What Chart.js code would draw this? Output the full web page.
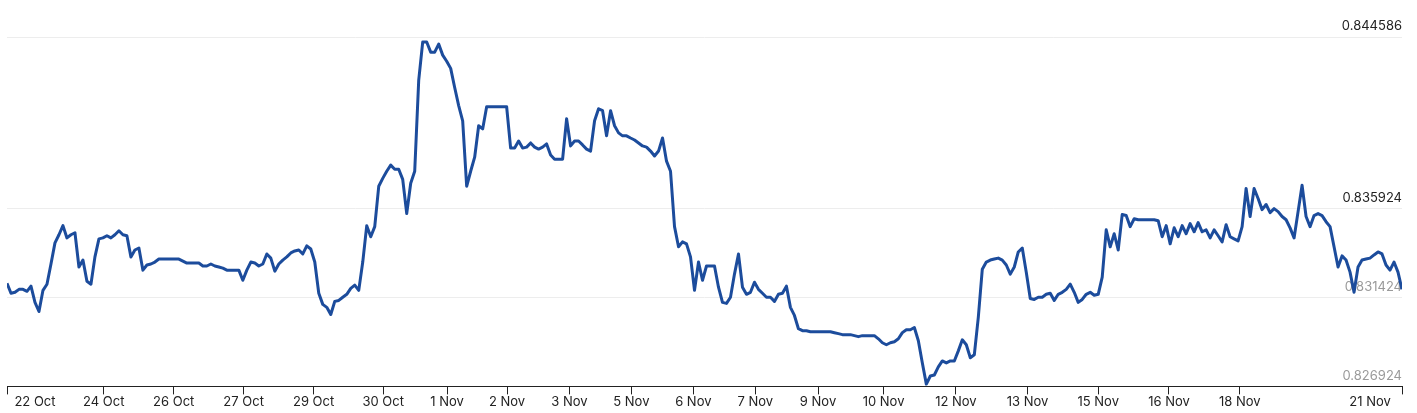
<!DOCTYPE html>
<html>
<head>
<meta charset="utf-8">
<script src="https://cdn.jsdelivr.net/npm/chart.js@4.4.1/dist/chart.umd.min.js"></script>
<style>
  html, body { margin: 0; padding: 0; background: #fff; }
  #wrap { width: 1417px; height: 413px; position: relative; }
</style>
</head>
<body>
<div id="wrap"><canvas id="chart"></canvas></div>
<script>
// one reading every few hours, 22 Oct -> 21 Nov
const rateValues = [
  0.83214, 0.83163, 0.83168, 0.83183, 0.83183, 0.83173, 0.83199, 0.83117, 0.83071, 0.83178,
  0.83209, 0.83311, 0.83418, 0.83459, 0.83505, 0.83443, 0.83459, 0.83469, 0.83296, 0.83331,
  0.83224, 0.83209, 0.83347, 0.83438, 0.83443, 0.83454, 0.83443, 0.83459, 0.83479, 0.83459,
  0.83454, 0.83347, 0.83382, 0.83392, 0.83280, 0.83306, 0.83311, 0.83321, 0.83336, 0.83336,
  0.83336, 0.83336, 0.83336, 0.83336, 0.83326, 0.83316, 0.83316, 0.83316, 0.83316, 0.83301,
  0.83301, 0.83311, 0.83301, 0.83296, 0.83290, 0.83280, 0.83280, 0.83280, 0.83280, 0.83229,
  0.83280, 0.83321, 0.83316, 0.83301, 0.83311, 0.83362, 0.83341, 0.83275, 0.83311, 0.83331,
  0.83347, 0.83367, 0.83377, 0.83382, 0.83362, 0.83403, 0.83387, 0.83321, 0.83163, 0.83107,
  0.83092, 0.83056, 0.83122, 0.83127, 0.83143, 0.83158, 0.83188, 0.83204, 0.83178, 0.83321,
  0.83505, 0.83449, 0.83500, 0.83704, 0.83744, 0.83780, 0.83811, 0.83790, 0.83790, 0.83739,
  0.83566, 0.83719, 0.83780, 0.84239, 0.84433, 0.84433, 0.84382, 0.84382, 0.84423, 0.84367,
  0.84336, 0.84300, 0.84203, 0.84112, 0.84035, 0.83704, 0.83780, 0.83851, 0.84010, 0.83994,
  0.84106, 0.84106, 0.84106, 0.84106, 0.84106, 0.84106, 0.83897, 0.83897, 0.83933, 0.83897,
  0.83902, 0.83923, 0.83902, 0.83892, 0.83902, 0.83918, 0.83862, 0.83841, 0.83841, 0.83841,
  0.84045, 0.83908, 0.83933, 0.83933, 0.83913, 0.83892, 0.83882, 0.84035, 0.84096, 0.84086,
  0.83959, 0.84086, 0.84010, 0.83974, 0.83959, 0.83959, 0.83948, 0.83938, 0.83923, 0.83908,
  0.83902, 0.83882, 0.83857, 0.83882, 0.83948, 0.83831, 0.83780, 0.83500, 0.83398, 0.83423,
  0.83413, 0.83347, 0.83178, 0.83321, 0.83229, 0.83301, 0.83301, 0.83301, 0.83194, 0.83117,
  0.83112, 0.83143, 0.83260, 0.83362, 0.83194, 0.83158, 0.83168, 0.83219, 0.83183, 0.83163,
  0.83143, 0.83143, 0.83122, 0.83158, 0.83163, 0.83199, 0.83092, 0.83051, 0.82984, 0.82974,
  0.82974, 0.82969, 0.82969, 0.82969, 0.82969, 0.82969, 0.82969, 0.82964, 0.82959, 0.82954,
  0.82954, 0.82954, 0.82949, 0.82944, 0.82949, 0.82949, 0.82949, 0.82949, 0.82933, 0.82913,
  0.82903, 0.82913, 0.82918, 0.82933, 0.82964, 0.82979, 0.82979, 0.82990, 0.82923, 0.82811,
  0.82704, 0.82745, 0.82750, 0.82791, 0.82821, 0.82811, 0.82821, 0.82821, 0.82872, 0.82928,
  0.82903, 0.82837, 0.82852, 0.83041, 0.83285, 0.83321, 0.83331, 0.83336, 0.83341, 0.83331,
  0.83306, 0.83260, 0.83296, 0.83372, 0.83392, 0.83270, 0.83137, 0.83132, 0.83143, 0.83143,
  0.83158, 0.83163, 0.83127, 0.83158, 0.83168, 0.83183, 0.83209, 0.83168, 0.83117, 0.83132,
  0.83158, 0.83168, 0.83153, 0.83158, 0.83245, 0.83484, 0.83398, 0.83464, 0.83382, 0.83561,
  0.83556, 0.83500, 0.83540, 0.83535, 0.83535, 0.83535, 0.83535, 0.83535, 0.83530, 0.83449,
  0.83505, 0.83413, 0.83494, 0.83449, 0.83505, 0.83464, 0.83515, 0.83474, 0.83520, 0.83474,
  0.83484, 0.83443, 0.83484, 0.83454, 0.83423, 0.83510, 0.83449, 0.83438, 0.83428, 0.83500,
  0.83693, 0.83551, 0.83693, 0.83642, 0.83586, 0.83612, 0.83571, 0.83591, 0.83576, 0.83551,
  0.83535, 0.83494, 0.83443, 0.83576, 0.83709, 0.83551, 0.83500, 0.83556, 0.83566, 0.83556,
  0.83525, 0.83500, 0.83398, 0.83296, 0.83352, 0.83331, 0.83270, 0.83168, 0.83296, 0.83331,
  0.83336, 0.83341, 0.83357, 0.83372, 0.83362, 0.83306, 0.83280, 0.83321, 0.83270, 0.83183
];

const tickDates = ['22 Oct', '24 Oct', '26 Oct', '27 Oct', '29 Oct', '30 Oct', '1 Nov', '2 Nov',
  '3 Nov', '5 Nov', '6 Nov', '7 Nov', '9 Nov', '10 Nov', '12 Nov', '13 Nov', '15 Nov', '16 Nov',
  '18 Nov', '21 Nov'];
// where each date falls among the readings
const tickIndex = [0, 24.2, 41.7, 59.2, 76.7, 94.1, 110.1, 125.1, 140.7, 156.2, 171.7, 187.2,
  202.9, 219.3, 237.4, 255.3, 273, 290.7, 308.4, 349];

const yTicks = [0.826924, 0.831424, 0.835924, 0.844586];

Chart.defaults.font.family = 'Inter, "Noto Sans", sans-serif';
Chart.defaults.font.size = 13;

const lastIndex = rateValues.length - 1;
const points = rateValues.map(function(v, i) { return { x: i, y: v }; });

new Chart(document.getElementById('chart'), {
    type: 'line',
    data: {
        datasets: [{
            data: points,
            borderColor: '#1c4c9c',
            borderWidth: 3,
            borderJoinStyle: 'round',
            pointRadius: 0,
            tension: 0,
            fill: false
        }]
    },
    options: {
        responsive: true,
        maintainAspectRatio: false,
        animation: false,
        layout: { padding: { left: 7, right: 15, top: 37, bottom: 3 } },
        plugins: {
            legend: { display: false },
            tooltip: { enabled: false }
        },
        scales: {
            // tick marks + axis line
            x: {
                type: 'linear',
                min: 0,
                max: lastIndex,
                afterBuildTicks: function(s) {
                    s.ticks = tickIndex.map(function(v) { return { value: v }; });
                },
                grid: { drawOnChartArea: false, drawTicks: true, tickLength: 8, color: '#222' },
                border: { display: true, color: '#222', width: 1 },
                ticks: { display: false }
            },
            // date labels, first and last kept inside the plot
            x2: {
                type: 'linear',
                position: 'bottom',
                weight: 1,
                min: 0,
                max: lastIndex,
                afterBuildTicks: function(s) {
                    s.ticks = tickIndex.map(function(v, i) {
                        if (i === 0) v += 7;
                        if (i === tickIndex.length - 1) v -= 8;
                        return { value: v };
                    });
                },
                grid: { display: false, drawTicks: false },
                border: { display: false },
                ticks: {
                    autoSkip: false,
                    maxRotation: 0,
                    padding: 0,
                    color: '#222',
                    callback: function(val, i) { return tickDates[i]; }
                }
            },
            y: {
                position: 'right',
                min: yTicks[0],
                max: yTicks[yTicks.length - 1],
                afterBuildTicks: function(s) {
                    s.ticks = yTicks.map(function(v) { return { value: v }; });
                },
                grid: { color: '#ededed', drawTicks: false },
                border: { display: false },
                ticks: {
                    mirror: true,
                    padding: 0,
                    labelOffset: -10.5,
                    color: function(c) { return c.index >= 2 ? '#222' : '#9a9a9a'; },
                    callback: function(v) { return v.toFixed(6); }
                }
            }
        }
    }
});
</script>
</body>
</html>
